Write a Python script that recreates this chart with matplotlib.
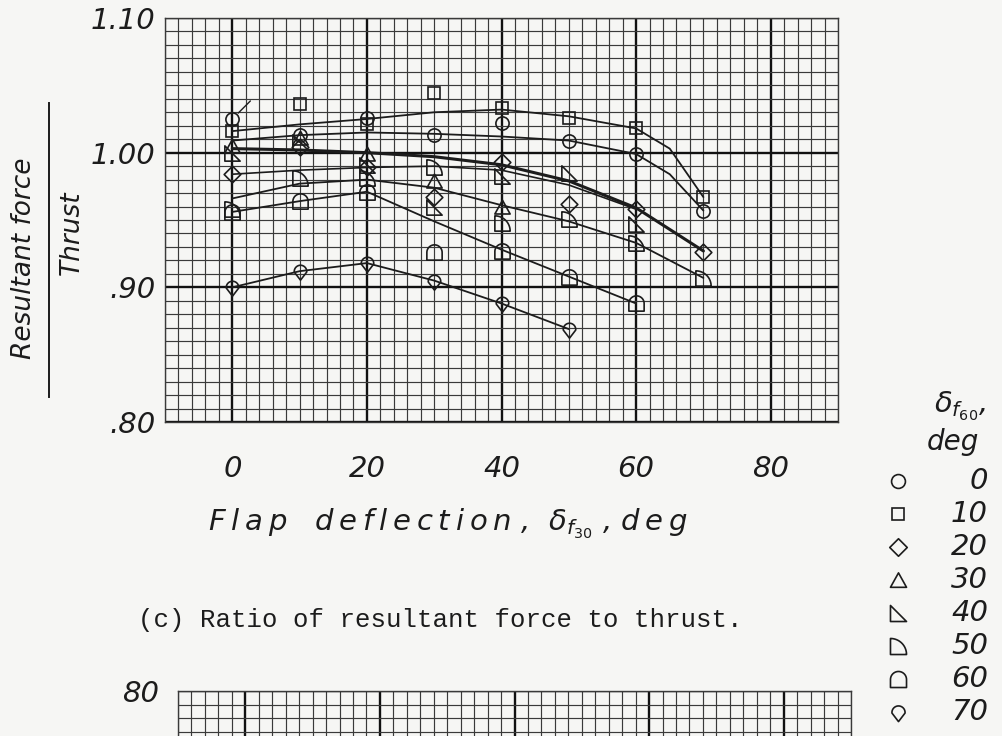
import matplotlib
matplotlib.use("Agg")
import numpy as np
import matplotlib.pyplot as plt
from matplotlib.path import Path

# ---- data -------------------------------------------------------------
delta_f30 = [0, 10, 20, 30, 40, 50, 60, 70]

# Measured ratio of resultant force to thrust, one list per delta_f60 setting
ratio_0 = [1.025, 1.013, 1.026, 1.013, 1.022, 1.009, 0.999, 0.957]
ratio_10 = [1.016, 1.036, 1.021, 1.044, 1.033, 1.026, 1.018, 0.967]
ratio_20 = [0.984, 1.004, 0.989, 0.967, 0.993, 0.962, 0.958, 0.926]
ratio_30 = [1.005, 1.011, 0.999, 0.979, 0.960]
ratio_40 = [1.000, 1.008, 0.991, 0.960, 0.983, 0.985, 0.947]
ratio_50 = [0.958, 0.981, 0.981, 0.989, 0.948, 0.951, 0.933, 0.907]
ratio_60 = [0.956, 0.964, 0.971, 0.926, 0.927, 0.908, 0.888]
ratio_70 = [0.900, 0.912, 0.918, 0.905, 0.888, 0.869]

# Faired curves drawn through the data
fair_x_0 = [0, 10, 20, 30, 40, 50, 60, 65, 70]
fair_y_0 = [1.009, 1.013, 1.015, 1.014, 1.012, 1.009, 0.999, 0.984, 0.957]
fair_x_10 = [0, 10, 20, 30, 40, 50, 60, 65, 70]
fair_y_10 = [1.016, 1.021, 1.025, 1.030, 1.032, 1.027, 1.018, 1.003, 0.967]
fair_x_20 = [0, 10, 20, 30, 40, 50, 60, 70]
fair_y_20 = [1.003, 1.002, 1.000, 0.997, 0.991, 0.979, 0.959, 0.927]
fair_x_20b = [0, 10, 20, 30, 40, 50, 60]
fair_y_20b = [0.984, 0.987, 0.989, 0.990, 0.987, 0.976, 0.958]
fair_x_50 = [0, 10, 20, 30, 40, 50, 60, 70]
fair_y_50 = [0.966, 0.977, 0.980, 0.974, 0.961, 0.949, 0.933, 0.907]
fair_x_60 = [0, 10, 20, 30, 40, 50, 60]
fair_y_60 = [0.956, 0.964, 0.971, 0.949, 0.928, 0.908, 0.888]
fair_x_70 = [0, 10, 20, 30, 40, 50]
fair_y_70 = [0.900, 0.912, 0.918, 0.905, 0.888, 0.869]

legend_labels = ["0", "10", "20", "30", "40", "50", "60", "70"]
x_ticks = [0, 20, 40, 60, 80]
x_ticklabels = ["0", "20", "40", "60", "80"]
y_ticks = [0.80, 0.90, 1.00, 1.10]
y_ticklabels = [".80", ".90", "1.00", "1.10"]


# ---- symbol shapes ------------------------------------------------------
def arc(cx, cy, r, a0, a1, n=24):
    t = np.radians(np.linspace(a0, a1, n))
    return list(zip(cx + r * np.cos(t), cy + r * np.sin(t)))


def closed(verts):
    verts = list(verts) + [verts[0]]
    codes = [Path.MOVETO] + [Path.LINETO] * (len(verts) - 2) + [Path.CLOSEPOLY]
    return Path(verts, codes)


m_diamond = closed([(0, -1), (1, 0), (0, 1), (-1, 0)])
m_tri = closed([(-1, -0.85), (1, -0.85), (0, 0.95)])
m_rtri = closed([(-1, -1), (1, -1), (-1, 1)])
m_quarter = closed([(-1, -1)] + arc(-1, -1, 2, 0, 90))
m_tomb = closed([(-1, -1), (1, -1)] + arc(0, 0, 1, 0, 180))
m_kite = closed([(0, -1)] + arc(0, 0, 0.72, -5, 185))

styles = [
    ("o", 9.5),
    ("s", 8.8),
    (m_diamond, 12.0),
    (m_tri, 11.0),
    (m_rtri, 11.0),
    (m_quarter, 11.0),
    (m_tomb, 11.0),
    (m_kite, 12.5),
]

ink = "#1c1c1c"
grid_c = "#3a3a3a"
paper = "#f6f6f4"

plt.rcParams["font.family"] = ["DejaVu Sans"]
plt.rcParams["mathtext.fontset"] = "dejavusans"

fig = plt.figure(figsize=(10.02, 7.36), dpi=100)
fig.patch.set_facecolor(paper)

W, H = 1002.0, 736.0


def box(l, t, r, b):
    return [l / W, 1 - b / H, (r - l) / W, (b - t) / H]


def spaced(word):
    return "\u2009".join(word)


def graph_paper(ax, xmaj, xmin, ymaj, ymin):
    ax.set_facecolor(paper)
    ax.set_xticks(xmaj)
    ax.set_xticks(xmin, minor=True)
    ax.set_yticks(ymaj)
    ax.set_yticks(ymin, minor=True)
    ax.grid(which="minor", color=grid_c, lw=0.85)
    ax.grid(which="major", color="#111111", lw=1.7)
    ax.tick_params(which="both", length=0)
    ax.set_axisbelow(True)
    for s in ax.spines.values():
        s.set_color(grid_c)
        s.set_linewidth(1.0)


# ---- main graph ---------------------------------------------------------
ax = fig.add_axes(box(165, 18, 838, 422))
ax.set_xlim(-10, 90)
ax.set_ylim(0.80, 1.10)
graph_paper(ax, x_ticks, np.arange(-10, 91, 2), y_ticks, np.arange(0.80, 1.1001, 0.01))
ax.set_xticklabels(x_ticklabels, fontsize=21, style="italic", color=ink)
ax.set_yticklabels(y_ticklabels, fontsize=21, style="italic", color=ink)
ax.tick_params(axis="x", pad=24)
ax.tick_params(axis="y", pad=7)

fairs = [
    (fair_x_10, fair_y_10, 1.3),
    (fair_x_0, fair_y_0, 1.3),
    (fair_x_20, fair_y_20, 2.2),
    (fair_x_20b, fair_y_20b, 1.2),
    (fair_x_50, fair_y_50, 1.3),
    (fair_x_60, fair_y_60, 1.3),
    (fair_x_70, fair_y_70, 1.3),
]
for fx, fy, lw in fairs:
    ax.plot(fx, fy, color=ink, lw=lw, solid_capstyle="round", zorder=3)

series = [ratio_0, ratio_10, ratio_20, ratio_30, ratio_40, ratio_50, ratio_60, ratio_70]
for vals, (mk, ms) in zip(series, styles):
    ax.plot(delta_f30[: len(vals)], vals, ls="none", marker=mk, ms=ms,
            mfc="none", mec=ink, mew=1.2, zorder=4)

# flagged point
ax.annotate("", xy=(delta_f30[0], ratio_0[0]), xytext=(13, 13),
            textcoords="offset points",
            arrowprops=dict(arrowstyle="-", lw=1.0, color=ink, shrinkA=0, shrinkB=6))

# axis titles
fig.text(24 / W, 1 - 258 / H, "Resultant force", rotation=90, ha="center", va="center",
         fontsize=19, style="italic", color=ink)
fig.text(72 / W, 1 - 233 / H, "Thrust", rotation=90, ha="center", va="center",
         fontsize=19, style="italic", color=ink)
fig.add_artist(plt.Line2D([49 / W, 49 / W], [1 - 103 / H, 1 - 397 / H],
                          color=ink, lw=1.4))

fig.text(448 / W, 1 - 524 / H,
         spaced("Flap") + "   " + spaced("deflection") + " ,  "
         + r"$\delta_{f_{30}}$" + " , " + spaced("deg"),
         ha="center", va="center", fontsize=21, style="italic", color=ink)

fig.text(440 / W, 1 - 620 / H, "(c) Ratio of resultant force to thrust.",
         ha="center", va="center", fontsize=18.5, family="Liberation Mono", color=ink)

# ---- key ----------------------------------------------------------------
key = fig.add_axes([0, 0, 1, 1])
key.set_xlim(0, W)
key.set_ylim(H, 0)
key.axis("off")
key.text(960, 406, r"$\delta_{f_{60}}$,", ha="center", va="center", fontsize=21,
         style="italic", color=ink)
key.text(953, 442, "deg", ha="center", va="center", fontsize=20, style="italic", color=ink)
row_y = 481.0
for lab, (mk, ms) in zip(legend_labels, styles):
    key.plot([898], [row_y], ls="none", marker=mk, ms=ms * 1.05, mfc="none",
             mec=ink, mew=1.2)
    key.text(988, row_y, lab, ha="right", va="center", fontsize=21,
             style="italic", color=ink)
    row_y += 33

# ---- next graph (top edge) ---------------------------------------------
ax2 = fig.add_axes(box(178, 691, 851, 691 + 540))
ax2.set_xlim(-10, 90)
ax2.set_ylim(0, 80)
graph_paper(ax2, x_ticks, np.arange(-10, 91, 2), [0, 20, 40, 60, 80], np.arange(0, 81, 2))
ax2.set_xticklabels([])
ax2.set_yticklabels(["", "", "", "", "80"], fontsize=21, style="italic", color=ink)
ax2.tick_params(axis="y", pad=14)

fig.savefig("out.png", dpi=100, facecolor=paper)
